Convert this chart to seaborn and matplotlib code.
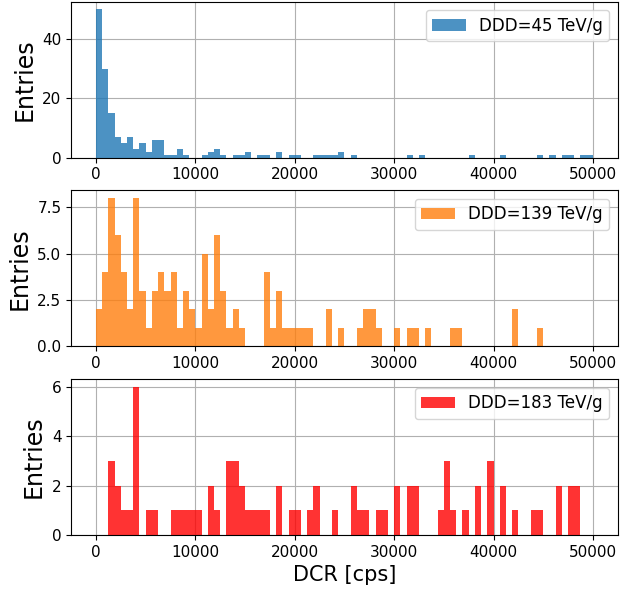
import matplotlib
matplotlib.use('Agg')
import matplotlib.pyplot as plt
import seaborn as sns
import numpy as np
import pandas as pd

# 80 bins of 625 cps between 0 and 50000
bin_width = 625
n_bins = 80

counts_45 = [50, 30, 15, 7, 5, 7, 3, 5, 2, 6,
             6, 1, 1, 3, 1, 0, 0, 1, 2, 3,
             1, 0, 1, 1, 2, 0, 1, 1, 0, 2,
             0, 1, 1, 0, 0, 1, 1, 1, 1, 2,
             0, 1, 0, 0, 0, 0, 0, 0, 0, 0,
             1, 0, 1, 0, 0, 0, 0, 0, 0, 0,
             1, 0, 0, 0, 0, 1, 0, 0, 0, 0,
             0, 1, 0, 1, 0, 1, 1, 0, 1, 1]

counts_139 = [2, 4, 8, 6, 4, 2, 8, 3, 1, 3,
              4, 3, 4, 1, 3, 2, 1, 5, 2, 6,
              3, 1, 2, 1, 0, 0, 0, 4, 1, 3,
              1, 1, 1, 1, 1, 0, 0, 2, 0, 1,
              0, 0, 1, 2, 2, 1, 0, 0, 1, 0,
              1, 1, 0, 1, 0, 0, 0, 1, 1, 0,
              0, 0, 0, 0, 0, 0, 0, 2, 0, 0,
              0, 1, 0, 0, 0, 0, 0, 0, 0, 0]

counts_183 = [0, 0, 3, 2, 1, 1, 6, 0, 1, 1,
              0, 0, 1, 1, 1, 1, 1, 0, 2, 1,
              0, 3, 3, 2, 1, 1, 1, 1, 0, 2,
              0, 1, 1, 0, 1, 2, 0, 0, 1, 0,
              0, 2, 1, 1, 0, 1, 1, 0, 2, 0,
              2, 2, 0, 0, 0, 1, 3, 1, 0, 1,
              0, 2, 0, 3, 0, 2, 0, 1, 0, 0,
              1, 1, 0, 0, 2, 0, 2, 2, 0, 0]

labels = ['DDD=45 TeV/g', 'DDD=139 TeV/g', 'DDD=183 TeV/g']
colors = ['#1f77b4', '#ff7f0e', 'red']

plt.rcParams['font.family'] = ['DejaVu Sans']

fig, axes = plt.subplots(3, 1, figsize=(6.24, 5.92), dpi=100)
fig.subplots_adjust(left=0.114, right=0.99, top=0.997, bottom=0.096, hspace=0.21)

centers = (np.arange(n_bins) + 0.5) * bin_width

for ax, counts, label, color in zip(axes, [counts_45, counts_139, counts_183], labels, colors):
    df = pd.DataFrame({'dcr': centers, 'n': counts})
    sns.histplot(data=df, x='dcr', weights='n', binwidth=bin_width,
                 binrange=(0, n_bins * bin_width), color=color, alpha=0.8,
                 linewidth=0, label=label, ax=ax)
    ax.set_xlim(-2500, 52500)
    ax.set_ylabel('Entries', fontsize=17)
    ax.set_xlabel('')
    ax.tick_params(labelsize=11)
    ax.grid(True, color='#b0b0b0', linewidth=0.8)
    ax.set_axisbelow(True)
    ax.legend(loc='upper right', fontsize=12)

axes[0].set_yticks([0, 20, 40])
axes[1].set_yticks([0, 2.5, 5.0, 7.5])
axes[2].set_yticks([0, 2, 4, 6])
axes[2].set_xlabel('DCR [cps]', fontsize=15)

plt.savefig('out.png', dpi=100)
